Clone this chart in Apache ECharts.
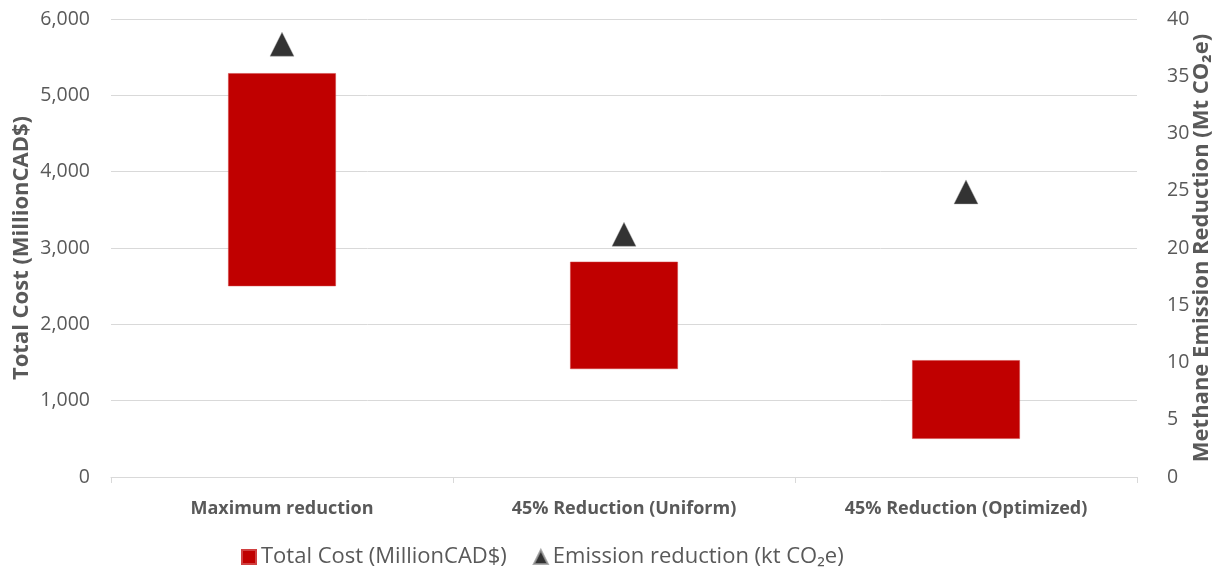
<!DOCTYPE html>
<html>
<head>
<meta charset="utf-8">
<script src="https://cdn.jsdelivr.net/npm/echarts@6/dist/echarts.min.js"></script>
<style>
  html, body { margin: 0; padding: 0; background: #fff; }
  #chart { width: 1213px; height: 567px; }
</style>
</head>
<body>
<div id="chart"></div>
<script>
// Scenarios on the category axis
const categories = ['Maximum reduction', '45% Reduction (Uniform)', '45% Reduction (Optimized)'];
// Total cost range per scenario (Million CAD$): low and high ends of each floating bar
const costLow = [2500, 1415, 500];
const costHigh = [5290, 2820, 1530];
// Methane emission reduction per scenario (Mt CO2e)
const emissionReduction = [37.8, 21.2, 24.9];
// Axis ticks
const leftTicks = { min: 0, max: 6000, interval: 1000 };
const rightTicks = { min: 0, max: 40, interval: 5 };

const costSpan = costHigh.map((h, i) => h - costLow[i]);

const font = '"Open Sans", Lato, sans-serif';
const grey = '#595959';

const chart = echarts.init(document.getElementById('chart'), null, { renderer: 'canvas' });
chart.setOption({
  animation: false,
  textStyle: { fontFamily: font },
  grid: { left: 111, right: 76, top: 19, bottom: 90, containLabel: false, outerBoundsMode: 'none' },
  legend: {
    data: [
      { name: 'Total Cost (MillionCAD$)', icon: 'rect' },
      { name: 'Emission reduction (kt CO₂e)', icon: 'triangle' }
    ],
    bottom: -6,
    left: 236,
    itemWidth: 14,
    itemHeight: 14,
    itemGap: 26,
    textStyle: { fontFamily: font, fontSize: 22, color: grey }
  },
  xAxis: {
    type: 'category',
    data: categories,
    axisLine: { lineStyle: { color: '#d9d9d9', width: 1 } },
    axisTick: { show: true, length: 6, lineStyle: { color: '#d9d9d9' } },
    axisLabel: { fontFamily: font, fontSize: 18, fontWeight: 'bold', color: grey, margin: 23 }
  },
  yAxis: [
    {
      type: 'value',
      min: leftTicks.min, max: leftTicks.max, interval: leftTicks.interval,
      name: 'Total Cost (MillionCAD$)',
      nameLocation: 'middle',
      nameGap: 78,
      nameMoveOverlap: false,
      nameTextStyle: { fontFamily: font, fontSize: 22, fontWeight: 'bold', color: grey },
      axisLine: { show: false },
      axisTick: { show: false },
      splitLine: { lineStyle: { color: '#d9d9d9', width: 1 } },
      axisLabel: {
        fontFamily: font, fontSize: 19.5, color: grey, margin: 21,
        formatter: v => v.toLocaleString('en-US')
      }
    },
    {
      type: 'value',
      min: rightTicks.min, max: rightTicks.max, interval: rightTicks.interval,
      name: 'Methane Emission Reduction (Mt CO₂e)',
      nameLocation: 'middle',
      nameGap: 54,
      nameRotate: 90,
      nameMoveOverlap: false,
      nameTextStyle: { fontFamily: font, fontSize: 22, fontWeight: 'bold', color: grey },
      axisLine: { show: false },
      axisTick: { show: false },
      splitLine: { show: false },
      axisLabel: { fontFamily: font, fontSize: 19.5, color: grey, margin: 30 }
    }
  ],
  series: [
    {
      name: 'base',
      type: 'bar',
      stack: 'cost',
      data: costLow,
      barWidth: '31.5%',
      itemStyle: { color: 'transparent' },
      emphasis: { disabled: true },
      silent: true
    },
    {
      name: 'Total Cost (MillionCAD$)',
      type: 'bar',
      stack: 'cost',
      data: costSpan,
      barWidth: '31.5%',
      itemStyle: { color: '#C00000', borderColor: '#d04040', borderWidth: 0.5 }
    },
    {
      name: 'Emission reduction (kt CO₂e)',
      type: 'scatter',
      yAxisIndex: 1,
      data: emissionReduction,
      symbol: 'triangle',
      symbolSize: [24, 24],
      itemStyle: { color: '#000000', borderColor: '#999999', borderWidth: 0.5 }
    }
  ]
});
</script>
</body>
</html>
